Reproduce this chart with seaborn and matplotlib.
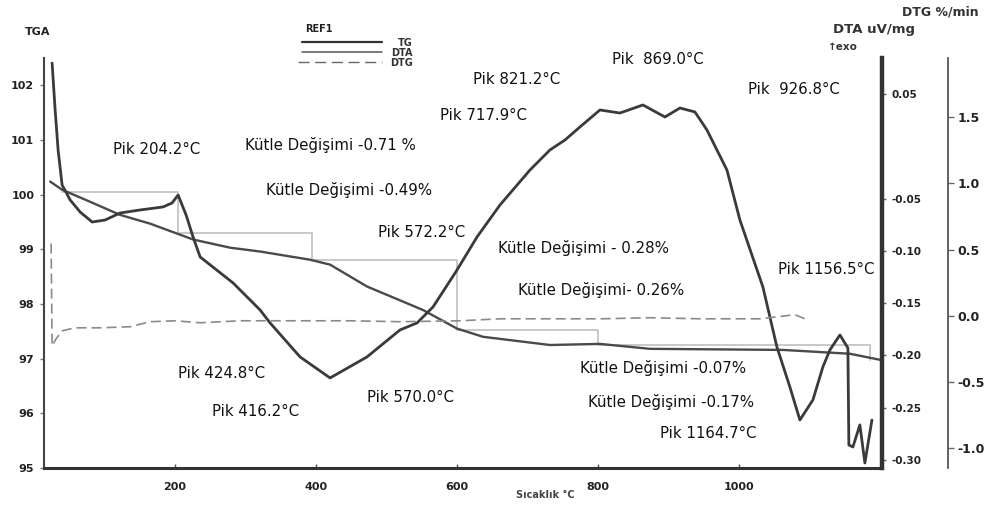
import matplotlib
matplotlib.use('Agg')
import matplotlib.pyplot as plt
import seaborn as sns
import pandas as pd

# ---------------- data ----------------
tg_temp = [22.7, 39.7, 79.4, 122.0, 164.5, 225.5, 278.0, 320.6, 391.5, 419.9,
           472.3, 551.8, 600.0, 636.9, 731.9, 802.8, 873.8, 1062.4, 1157.4, 1200.0]
tg_mass = [100.24, 100.09, 99.87, 99.63, 99.47, 99.18, 99.03, 98.96, 98.81, 98.72,
           98.32, 97.89, 97.55, 97.40, 97.25, 97.27, 97.18, 97.16, 97.09, 96.98]

dta_temp = [25.5, 29.8, 34.0, 39.7, 51.1, 65.2, 82.3, 100.7, 122.0, 150.4,
            183.0, 195.7, 204.3, 215.6, 225.5, 235.5, 282.3, 320.6, 334.8, 377.3,
            419.9, 472.3, 519.1, 543.3, 566.0, 600.0, 628.4, 661.0, 703.5, 731.9,
            753.2, 774.5, 802.8, 831.2, 863.8, 895.0, 916.3, 937.6, 954.6, 983.0,
            1001.4, 1034.0, 1053.9, 1072.3, 1086.5, 1105.0, 1119.1, 1129.1, 1143.3, 1154.6,
            1156.0, 1161.7, 1171.6, 1178.7, 1188.7]
dta_val = [0.0796, 0.0347, -0.0035, -0.0370, -0.0513, -0.0628, -0.0724, -0.0705, -0.0638, -0.0609,
           -0.0580, -0.0542, -0.0466, -0.0657, -0.0867, -0.1058, -0.1307, -0.1565, -0.1689, -0.2014,
           -0.2215, -0.2014, -0.1756, -0.1689, -0.1536, -0.1183, -0.0867, -0.0561, -0.0227, -0.0035,
           0.0060, 0.0185, 0.0347, 0.0318, 0.0395, 0.0280, 0.0366, 0.0328, 0.0156, -0.0227,
           -0.0705, -0.1345, -0.1919, -0.2301, -0.2617, -0.2425, -0.2110, -0.1947, -0.1804, -0.1928,
           -0.2856, -0.2875, -0.2664, -0.3028, -0.2617]

dtg_temp = [24.1, 25.5, 31.2, 39.7, 58.2, 93.6, 136.2, 164.5, 200.0, 235.5,
            292.2, 377.3, 448.2, 519.1, 604.3, 661.0, 731.9, 802.8, 873.8, 944.7,
            1029.8, 1079.4, 1093.6]
dtg_val = [0.545, -0.227, -0.174, -0.114, -0.091, -0.091, -0.083, -0.045, -0.038, -0.053,
           -0.038, -0.038, -0.038, -0.045, -0.038, -0.023, -0.023, -0.023, -0.015, -0.023,
           -0.023, 0.008, -0.023]

# mass-change step markers
step_temp = [40, 204, 204, 394, 394, 600, 600, 800, 800, 1186, 1186]
step_mass = [100.05, 100.05, 99.29, 99.29, 98.81, 98.81, 97.53, 97.53, 97.25, 97.25, 96.98]

tg_ticks = [95, 96, 97, 98, 99, 100, 101, 102]
x_ticks = [200, 400, 600, 800, 1000]
dta_ticks = [0.05, -0.05, -0.10, -0.15, -0.20, -0.25, -0.30]
dta_ticklabels = ['0.05', '-0.05', '-0.10', '-0.15', '-0.20', '-0.25', '-0.30']
dtg_ticks = [1.5, 1.0, 0.5, 0.0, -0.5, -1.0]
dtg_ticklabels = ['1.5', '1.0', '0.5', '0.0', '-0.5', '-1.0']

annotations = [
    ('Pik 204.2°C', 113, 150), ('Kütle Değişimi -0.71 %', 245, 145),
    ('Kütle Değişimi -0.49%', 266, 190), ('Pik 572.2°C', 378, 232),
    ('Pik 821.2°C', 473, 80), ('Pik 717.9°C', 440, 116),
    ('Pik  869.0°C', 612, 60), ('Pik  926.8°C', 748, 90),
    ('Kütle Değişimi - 0.28%', 498, 248), ('Kütle Değişimi- 0.26%', 518, 290),
    ('Pik 1156.5°C', 778, 270), ('Pik 424.8°C', 178, 373),
    ('Pik 416.2°C', 212, 411), ('Pik 570.0°C', 367, 397),
    ('Kütle Değişimi -0.07%', 580, 368), ('Kütle Değişimi -0.17%', 588, 402),
    ('Pik 1164.7°C', 660, 433),
]

# ---------------- drawing ----------------
sns.set_theme(style='white')
plt.rcParams['font.family'] = ['DejaVu Sans']

W, H = 991, 508
fig = plt.figure(figsize=(W / 100, H / 100), dpi=100)
fig.patch.set_facecolor('white')


def fx(x):
    return x / W


def fy(y):
    return 1 - y / H


L, R, T, B = 44, 882, 58, 468
ax = fig.add_axes([fx(L), fy(B), (R - L) / W, (B - T) / H])
ax.set_facecolor('none')
ax2 = ax.twinx()
ax3 = ax.twinx()

tg_df = pd.DataFrame({'T': tg_temp, 'TG': tg_mass})
dta_df = pd.DataFrame({'T': dta_temp, 'DTA': dta_val})
dtg_df = pd.DataFrame({'T': dtg_temp, 'DTG': dtg_val})
step_df = pd.DataFrame({'T': step_temp, 'TG': step_mass})

sns.lineplot(data=step_df, x='T', y='TG', ax=ax, color='#c4c4c4', lw=1.3,
             sort=False, estimator=None, legend=False)
sns.lineplot(data=tg_df, x='T', y='TG', ax=ax, color='#4a4a4a', lw=1.7,
             sort=False, estimator=None, legend=False)
sns.lineplot(data=dta_df, x='T', y='DTA', ax=ax2, color='#3a3a3a', lw=2.0,
             sort=False, estimator=None, legend=False)
sns.lineplot(data=dtg_df, x='T', y='DTG', ax=ax3, color='#8a8a8a', lw=1.2,
             linestyle=(0, (6, 3)), sort=False, estimator=None, legend=False)

ax.set_xlim(14, 1203)
ax.set_ylim(95, 102.5)
ax2.set_ylim(-0.3076, 0.0844)
ax3.set_ylim(-1.15, 1.947)

for a in (ax, ax2, ax3):
    a.set_xlabel('')
    a.set_ylabel('')
    a.grid(False)

# spines
ax.spines['top'].set_visible(False)
ax.spines['right'].set_visible(False)
ax.spines['left'].set_color('#444444')
ax.spines['left'].set_linewidth(1.5)
ax.spines['bottom'].set_color('#333333')
ax.spines['bottom'].set_linewidth(2.2)

for s in ('top', 'left', 'bottom'):
    ax2.spines[s].set_visible(False)
ax2.spines['right'].set_color('#333333')
ax2.spines['right'].set_linewidth(3.2)

for s in ('top', 'left', 'bottom'):
    ax3.spines[s].set_visible(False)
ax3.spines['right'].set_position(('axes', (948 - L) / (R - L)))
ax3.spines['right'].set_color('#555555')
ax3.spines['right'].set_linewidth(1.3)

# ticks
ax.set_xticks(x_ticks)
ax.set_xticklabels([str(t) for t in x_ticks])
ax.set_yticks(tg_ticks)
ax.set_yticklabels([str(t) for t in tg_ticks])
ax.tick_params(axis='x', bottom=True, direction='in', length=3, width=1,
               color='#555555', labelsize=8, labelcolor='#222222', pad=10)
ax.tick_params(axis='y', left=True, direction='out', length=3, width=1,
               color='#777777', labelsize=8, labelcolor='#222222', pad=4)
for lab in ax.get_xticklabels() + ax.get_yticklabels():
    lab.set_fontweight('bold')

ax2.set_yticks(dta_ticks)
ax2.set_yticklabels(dta_ticklabels)
ax2.tick_params(axis='y', right=True, direction='out', length=3, width=1,
                color='#666666', labelsize=7.5, labelcolor='#222222', pad=4)
ax3.set_yticks(dtg_ticks)
ax3.set_yticklabels(dtg_ticklabels)
ax3.tick_params(axis='y', right=True, direction='out', length=4, width=1,
                color='#666666', labelsize=9, labelcolor='#222222', pad=3)
for lab in ax2.get_yticklabels() + ax3.get_yticklabels():
    lab.set_fontweight('bold')
ax2.tick_params(axis='x', bottom=False, top=False)
ax3.tick_params(axis='x', bottom=False, top=False)

# axis titles
fig.text(fx(25), fy(32), 'TGA', fontsize=8, fontweight='bold', color='#222222',
         va='center', ha='left')
fig.text(fx(902), fy(12), 'DTG %/min', fontsize=9, fontweight='bold', color='#333333',
         va='center', ha='left')
fig.text(fx(833), fy(30), 'DTA uV/mg', fontsize=9.5, fontweight='bold', color='#333333',
         va='center', ha='left')
fig.text(fx(828), fy(47), '↑exo', fontsize=7.5, fontweight='bold', color='#333333',
         va='center', ha='left')
fig.text(fx(545), fy(495), 'Sıcaklık °C', fontsize=7, fontweight='bold', color='#444444',
         va='center', ha='center')

# legend block
fig.text(fx(305), fy(29), 'REF1', fontsize=7, fontweight='bold', color='#222222',
         va='center', ha='left')
fig.add_artist(plt.Line2D([fx(302), fx(382)], [fy(42), fy(42)], color='#333333', lw=1.6))
fig.add_artist(plt.Line2D([fx(302), fx(382)], [fy(52), fy(52)], color='#555555', lw=1.1))
fig.add_artist(plt.Line2D([fx(298), fx(382)], [fy(62), fy(62)], color='#666666', lw=1.0,
                          linestyle=(0, (8, 4))))
for lbl, yy in (('TG', 43), ('DTA', 53), ('DTG', 63)):
    fig.text(fx(413), fy(yy), lbl, fontsize=7, fontweight='bold', color='#333333',
             va='center', ha='right')

# annotations
for txt, xx, yy in annotations:
    fig.text(fx(xx), fy(yy), txt, fontsize=10.8, color='#111111', va='center', ha='left')

fig.savefig('out.png', dpi=100, facecolor='white')
